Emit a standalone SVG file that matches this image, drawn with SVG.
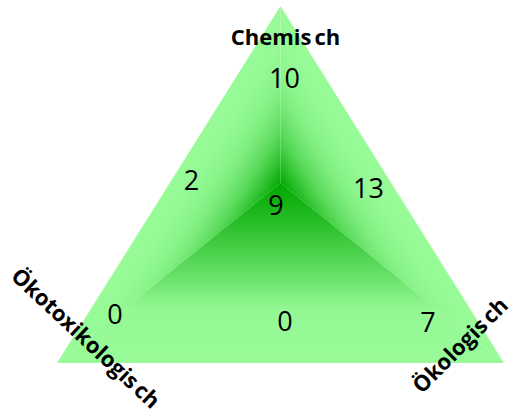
<svg xmlns="http://www.w3.org/2000/svg" width="512" height="412" viewBox="0 0 512 412">
  <style>
    .num { font-family: "Open Sans", "Noto Sans", sans-serif; font-size: 27px; fill: #000; text-anchor: middle; }
    .lab { font-family: "Open Sans", "Noto Sans", sans-serif; font-size: 22px; font-weight: bold; fill: #000; text-anchor: middle; }
  </style>
  <defs>
    <linearGradient id="gL" gradientUnits="userSpaceOnUse" x1="200.96" y1="133.3" x2="280.5" y2="183">
      <stop offset="0" stop-color="#98fb98"/>
      <stop offset="0.2" stop-color="#95fa95"/>
      <stop offset="0.4" stop-color="#89f389"/>
      <stop offset="0.5" stop-color="#7ded7d"/>
      <stop offset="0.6" stop-color="#6ee46e"/>
      <stop offset="0.7" stop-color="#5ada5a"/>
      <stop offset="0.8" stop-color="#41cc41"/>
      <stop offset="0.9" stop-color="#23bb23"/>
      <stop offset="1" stop-color="#00a800"/>
    </linearGradient>
    <linearGradient id="gR" href="#gL" x1="360.04" y1="133.3" x2="280.5" y2="183"/>
    <linearGradient id="gB" gradientUnits="userSpaceOnUse" x1="280.5" y1="363" x2="280.5" y2="183">
      <stop offset="0" stop-color="#98fb98"/>
      <stop offset="0.3" stop-color="#93f893"/>
      <stop offset="0.54" stop-color="#5bda5b"/>
      <stop offset="0.79" stop-color="#26bd26"/>
      <stop offset="1" stop-color="#00a800"/>
    </linearGradient>
  </defs>
  <g id="triangle">
    <polygon points="280.5,6 57,363 280.5,183" fill="url(#gL)"/>
    <polygon points="280.5,6 504,363 280.5,183" fill="url(#gR)"/>
    <polygon points="57,363 504,363 280.5,183" fill="url(#gB)"/>
  </g>
  <g id="labels">
    <text class="lab" x="285.5" y="45">Chemis<tspan dx="3">ch</tspan></text>
    <text class="lab" transform="translate(86,338) rotate(43)" x="0" y="8">Ökotoxikologis<tspan dx="3">ch</tspan></text>
    <text class="lab" transform="translate(460,345) rotate(-45)" x="0" y="8">Ökologis<tspan dx="3">ch</tspan></text>
  </g>
  <g id="values">
    <text class="num" x="284.5" y="88">10</text>
    <text class="num" x="191.5" y="190">2</text>
    <text class="num" x="276" y="215">9</text>
    <text class="num" x="368.5" y="198">13</text>
    <text class="num" x="115" y="324">0</text>
    <text class="num" x="285" y="331">0</text>
    <text class="num" x="428" y="332">7</text>
  </g>
</svg>
